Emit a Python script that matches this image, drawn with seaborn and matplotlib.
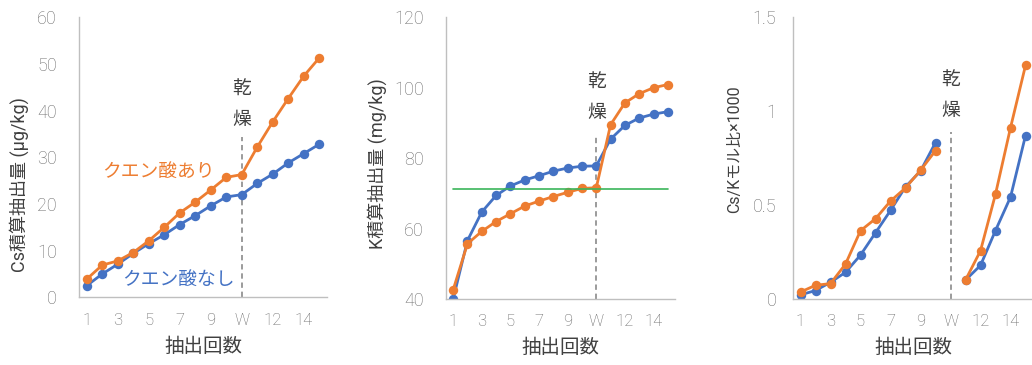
import numpy as np
import pandas as pd
import matplotlib
matplotlib.use("Agg")
import matplotlib.pyplot as plt
import seaborn as sns

# Extraction steps: ten extractions, the drying step "W", then five more
categories = ["1", "2", "3", "4", "5", "6", "7", "8", "9", "10",
              "W", "11", "12", "13", "14", "15"]
tick_labels = ["1", "3", "5", "7", "9", "W", "12", "14"]

# Cumulative Cs extracted (µg/kg)
cs_citric = [3.9, 6.9, 7.8, 9.6, 12.1, 15.0, 18.1, 20.4, 23.0, 25.7,
             26.3, 32.2, 37.6, 42.6, 47.4, 51.3]
cs_plain = [2.5, 5.0, 7.1, 9.4, 11.5, 13.4, 15.6, 17.5, 19.6, 21.5,
            22.0, 24.4, 26.4, 28.8, 30.8, 32.8]

# Cumulative K extracted (mg/kg)
k_citric = [42.6, 55.7, 59.2, 62.0, 64.2, 66.4, 67.8, 69.1, 70.3, 71.4,
            71.6, 89.5, 95.7, 98.3, 100.0, 100.9]
k_plain = [40.0, 56.6, 64.7, 69.4, 72.1, 73.8, 75.0, 76.3, 77.2, 77.7,
           77.8, 85.4, 89.3, 91.4, 92.5, 93.2]
k_reference = 71.1

# Cs/K molar ratio x1000 (no value at the drying step)
ratio_citric = [0.035, 0.071, 0.080, 0.184, 0.362, 0.426, 0.520, 0.590, 0.684, 0.789,
                np.nan, 0.099, 0.255, 0.557, 0.911, 1.243]
ratio_plain = [0.020, 0.043, 0.087, 0.140, 0.232, 0.351, 0.470, 0.596, 0.680, 0.832,
               np.nan, 0.099, 0.177, 0.363, 0.541, 0.869]

ORANGE = "#ED7D31"
BLUE = "#4472C4"
GREEN = "#3BB55A"
AXIS_GRAY = "#BFBFBF"
TICK_GRAY = "#6A6A6A"
TEXT_DARK = "#404040"

sns.set_style("white")
plt.rcParams["font.family"] = ["Roboto", "Noto Sans CJK JP", "DejaVu Sans"]

fig = plt.figure(figsize=(10.32, 3.65), dpi=100)
W, H = 1032, 365


def add_axes(left, right, top, bottom):
    return fig.add_axes([left / W, 1 - bottom / H, (right - left) / W, (bottom - top) / H])


ax1 = add_axes(79, 327, 17.3, 297.3)
ax2 = add_axes(446, 675, 17.3, 299.0)
ax3 = add_axes(793, 1033, 17.3, 298.6)

idx = np.arange(len(categories))
line_kw = dict(marker="o", markersize=6.8, linewidth=2.0, markeredgewidth=0)


def draw_series(ax, values, color):
    vals = np.asarray(values, dtype=float)
    df = pd.DataFrame({"step": idx, "value": vals})
    # split at missing values so gaps are not bridged
    df["seg"] = np.cumsum(np.isnan(vals))
    df = df.dropna()
    for _, seg in df.groupby("seg"):
        sns.lineplot(data=seg, x="step", y="value", ax=ax, color=color,
                     estimator=None, sort=False, **line_kw)


def style_axes(ax, ylim, yticks, ylabels, ylabel, label_xy, ypad, label_size=13):
    ax.set_xlim(-0.5, len(categories) - 0.5)
    ax.set_ylim(*ylim)
    ax.set_yticks(yticks)
    ax.set_yticklabels(ylabels)
    ax.set_xticks(idx[::2])
    ax.set_xticklabels(tick_labels)
    for side in ("top", "right"):
        ax.spines[side].set_visible(False)
    for side in ("left", "bottom"):
        ax.spines[side].set_color(AXIS_GRAY)
        ax.spines[side].set_linewidth(1.0)
    ax.tick_params(axis="y", direction="in", length=4.5, width=1.0, color=AXIS_GRAY,
                   labelcolor=TICK_GRAY, labelsize=13, pad=ypad)
    ax.tick_params(axis="x", length=0, labelcolor=TICK_GRAY, labelsize=12, pad=11)
    for lab in ax.get_xticklabels() + ax.get_yticklabels():
        lab.set_fontweight("light")
    ax.set_xlabel("抽出回数", fontsize=14, color=TEXT_DARK, labelpad=7)
    ax.set_ylabel(ylabel, fontsize=label_size, color=TEXT_DARK)
    ax.yaxis.set_label_coords(*label_xy)


def drying_mark(ax, y_top, y1, y2):
    ax.plot([10, 10], [ax.get_ylim()[0], y_top], color="#808080", linewidth=1.1,
            linestyle=(0, (3.5, 2.5)), zorder=1)
    ax.text(10, y1, "乾", ha="center", va="center", fontsize=13.5, color=TEXT_DARK)
    ax.text(10, y2, "燥", ha="center", va="center", fontsize=13.5, color=TEXT_DARK)


# Panel 1: cumulative Cs
draw_series(ax1, cs_plain, BLUE)
draw_series(ax1, cs_citric, ORANGE)
style_axes(ax1, (0, 60), [0, 10, 20, 30, 40, 50, 60],
           ["0", "10", "20", "30", "40", "50", "60"],
           "Cs積算抽出量 (µg/kg)", (-0.202, 0.404), 16)
drying_mark(ax1, 34.3, 44.4, 38.0)
ax1.text(0.98, 26.8, "クエン酸あり", color=ORANGE, fontsize=13.5, ha="left", va="center")
ax1.text(2.27, 3.7, "クエン酸なし", color=BLUE, fontsize=13.5, ha="left", va="center")

# Panel 2: cumulative K
draw_series(ax2, k_plain, BLUE)
draw_series(ax2, k_citric, ORANGE)
sns.lineplot(x=idx, y=[k_reference] * len(idx), ax=ax2, color=GREEN, linewidth=1.2, zorder=5)
style_axes(ax2, (40, 120), [40, 60, 80, 100, 120],
           ["40", "60", "80", "100", "120"],
           "K積算抽出量 (mg/kg)", (-0.258, 0.479), 16)
drying_mark(ax2, 86.5, 101.3, 92.8)

# Panel 3: Cs/K molar ratio
draw_series(ax3, ratio_plain, BLUE)
draw_series(ax3, ratio_citric, ORANGE)
style_axes(ax3, (0, 1.5), [0, 0.5, 1.0, 1.5],
           ["0", "0.5", "1", "1.5"],
           "Cs/Kモル比×1000", (-0.2125, 0.53), 12, label_size=11.5)
drying_mark(ax3, 0.889, 1.16, 1.0)

fig.savefig("out.png", dpi=100)
